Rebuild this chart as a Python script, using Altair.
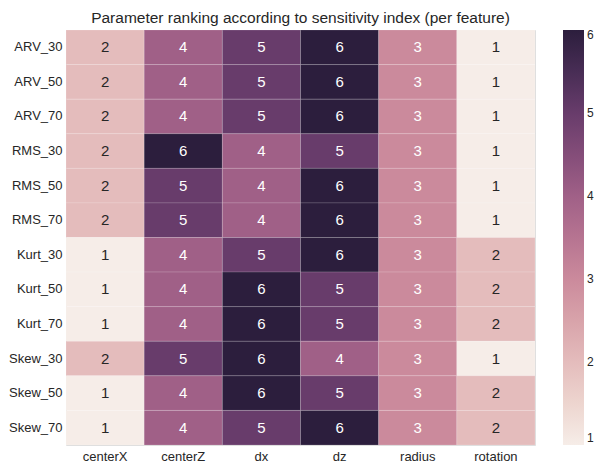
import altair as alt
import pandas as pd

features = ["ARV_30", "ARV_50", "ARV_70", "RMS_30", "RMS_50", "RMS_70",
            "Kurt_30", "Kurt_50", "Kurt_70", "Skew_30", "Skew_50", "Skew_70"]
params = ["centerX", "centerZ", "dx", "dz", "radius", "rotation"]
ranks = [
    [2, 4, 5, 6, 3, 1],
    [2, 4, 5, 6, 3, 1],
    [2, 4, 5, 6, 3, 1],
    [2, 6, 4, 5, 3, 1],
    [2, 5, 4, 6, 3, 1],
    [2, 5, 4, 6, 3, 1],
    [1, 4, 5, 6, 3, 2],
    [1, 4, 6, 5, 3, 2],
    [1, 4, 6, 5, 3, 2],
    [2, 5, 6, 4, 3, 1],
    [1, 4, 6, 5, 3, 2],
    [1, 4, 5, 6, 3, 2],
]
palette = ["#f6ede8", "#e4bcbc", "#cb8a9c", "#a06087", "#683c6b", "#2c1e3d"]

rows = []
for f, vals in zip(features, ranks):
    for p, v in zip(params, vals):
        rows.append({"feature": f, "param": p, "rank": v})
df = pd.DataFrame(rows)

font = "Liberation Sans"
base = alt.Chart(df)

rect = base.mark_rect(stroke="white", strokeWidth=0.6, strokeOpacity=0.25).encode(
    x=alt.X("param:N", sort=params, title=None,
            axis=alt.Axis(orient="bottom", labelAngle=0, ticks=False, domain=False,
                          labelPadding=5, labelFontSize=13, labelColor="#262626",
                          labelFont=font)),
    y=alt.Y("feature:N", sort=features, title=None,
            axis=alt.Axis(ticks=False, domain=False, labelPadding=4,
                          labelFontSize=13, labelColor="#262626", labelFont=font)),
    color=alt.Color("rank:Q",
                    scale=alt.Scale(domain=[1, 6], range=palette),
                    legend=alt.Legend(title=None, gradientLength=415,
                                      gradientThickness=21, offset=28,
                                      labelFontSize=12, labelColor="#262626",
                                      labelFont=font, tickCount=6,
                                      gradientStrokeWidth=0, labelOffset=3)),
)

text = base.mark_text(fontSize=15, font=font).encode(
    x=alt.X("param:N", sort=params),
    y=alt.Y("feature:N", sort=features),
    text="rank:Q",
    color=alt.condition(alt.datum.rank >= 3, alt.value("#ffffff"), alt.value("#262626")),
)

chart = (rect + text).properties(
    width=469, height=415,
    title=alt.TitleParams("Parameter ranking according to sensitivity index (per feature)",
                          fontSize=15.5, font=font, fontWeight="normal",
                          color="#262626", offset=3),
    padding={"left": 0, "top": 3, "right": 0, "bottom": 0},
).configure_view(strokeWidth=0).configure(background="white")

chart.save("out.html", embed_options={"renderer": "svg", "actions": False})
